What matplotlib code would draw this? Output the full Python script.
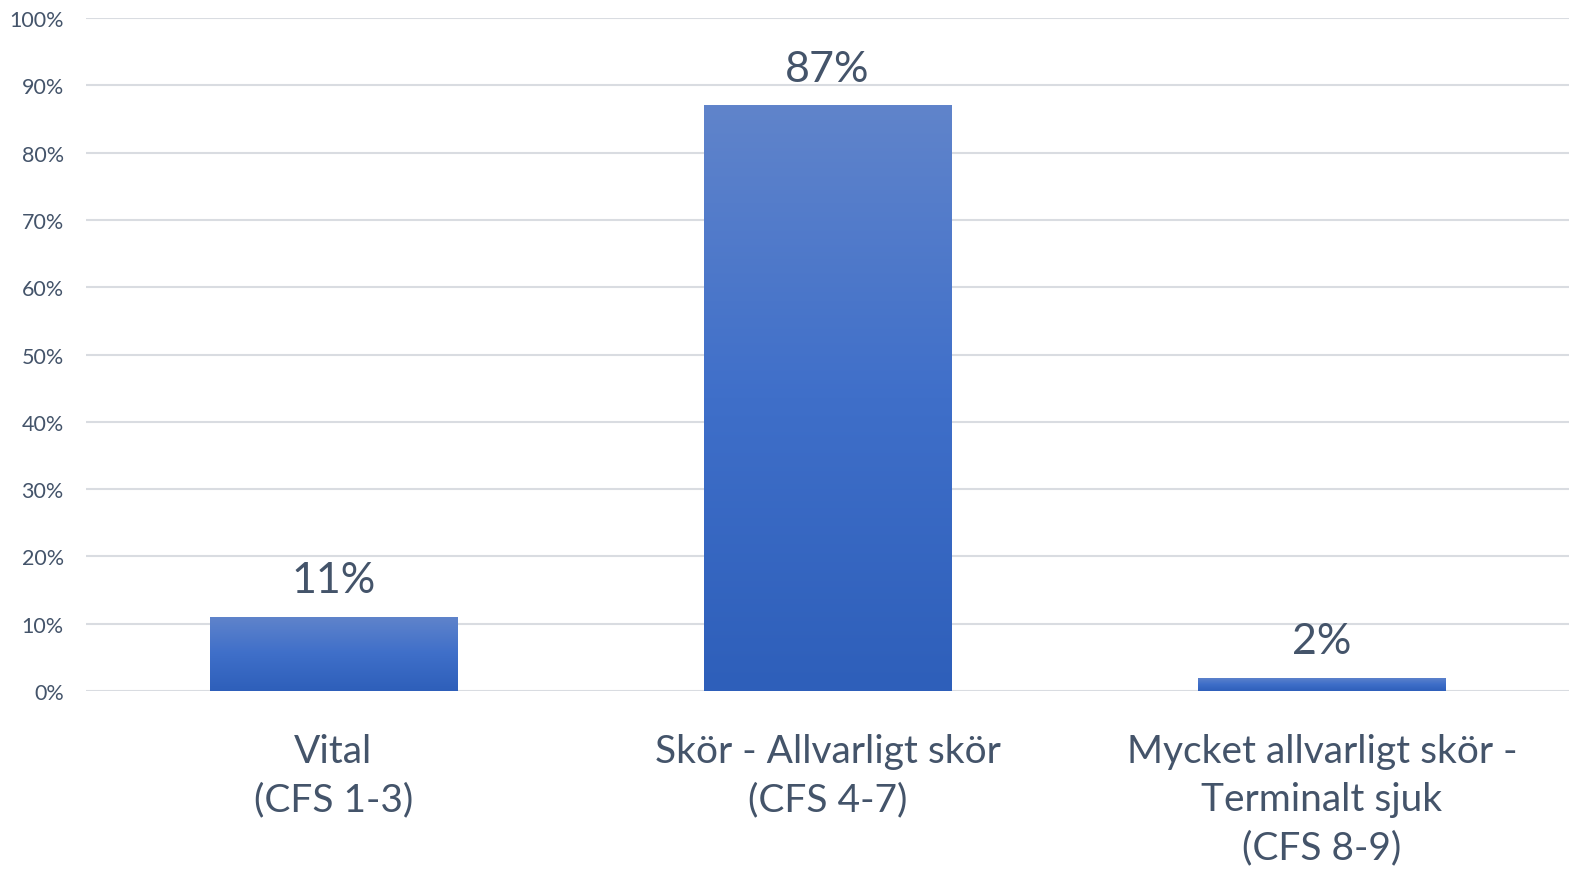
"""
CFS distribution bar chart with Office-style vertical gradient bars.
"""
import matplotlib

matplotlib.use("Agg")
import matplotlib.pyplot as plt  # noqa: E402
import numpy as np  # noqa: E402
from matplotlib.colors import LinearSegmentedColormap  # noqa: E402

categories = ["Vital\n(CFS 1-3)",
              "Skör - Allvarligt skör\n(CFS 4-7)",
              "Mycket allvarligt skör -\nTerminalt sjuk\n(CFS 8-9)"]
values = [11, 87, 2]
yticks = list(range(0, 101, 10))

TEXT = "#44546A"
GRID = "#D9DCE1"
cmap = LinearSegmentedColormap.from_list("bar", ["#2E5FBA", "#3F6FC9", "#6084CB"])

plt.rcParams["font.family"] = ["Lato", "DejaVu Sans"]

fig = plt.figure(figsize=(15.76, 8.79), dpi=100)
ax = fig.add_axes([86 / 1576, 1 - 692 / 879, 1483 / 1576, 673 / 879])

x = np.arange(len(values))
bars = ax.bar(x, values, width=0.5, color="none", zorder=3)
grad = np.linspace(0, 1, 256).reshape(-1, 1)
for b in bars:
    x0, w, h = b.get_x(), b.get_width(), b.get_height()
    im = ax.imshow(grad, cmap=cmap, origin="lower", aspect="auto",
                   extent=(x0, x0 + w, 0, h), zorder=3)
    im.set_clip_path(b)
    ax.text(x0 + w / 2, h + 2.6, f"{h:g}%", ha="center", va="bottom",
            fontsize=31, color=TEXT)

ax.set_xlim(-0.5, len(values) - 0.5)
ax.set_ylim(0, 100)
ax.set_yticks(yticks)
ax.set_yticklabels([f"{t}%" for t in yticks], fontsize=15.5, color=TEXT)
ax.set_xticks(x)
ax.set_xticklabels(categories, fontsize=28, color=TEXT, linespacing=1.42,
                   va="top")
ax.tick_params(axis="both", length=0)
ax.tick_params(axis="x", pad=30)
ax.tick_params(axis="y", pad=16)
ax.yaxis.grid(True, color=GRID, linewidth=1.5, zorder=0)
ax.set_axisbelow(True)
for s in ax.spines.values():
    s.set_visible(False)

fig.savefig("out.png", dpi=100)
